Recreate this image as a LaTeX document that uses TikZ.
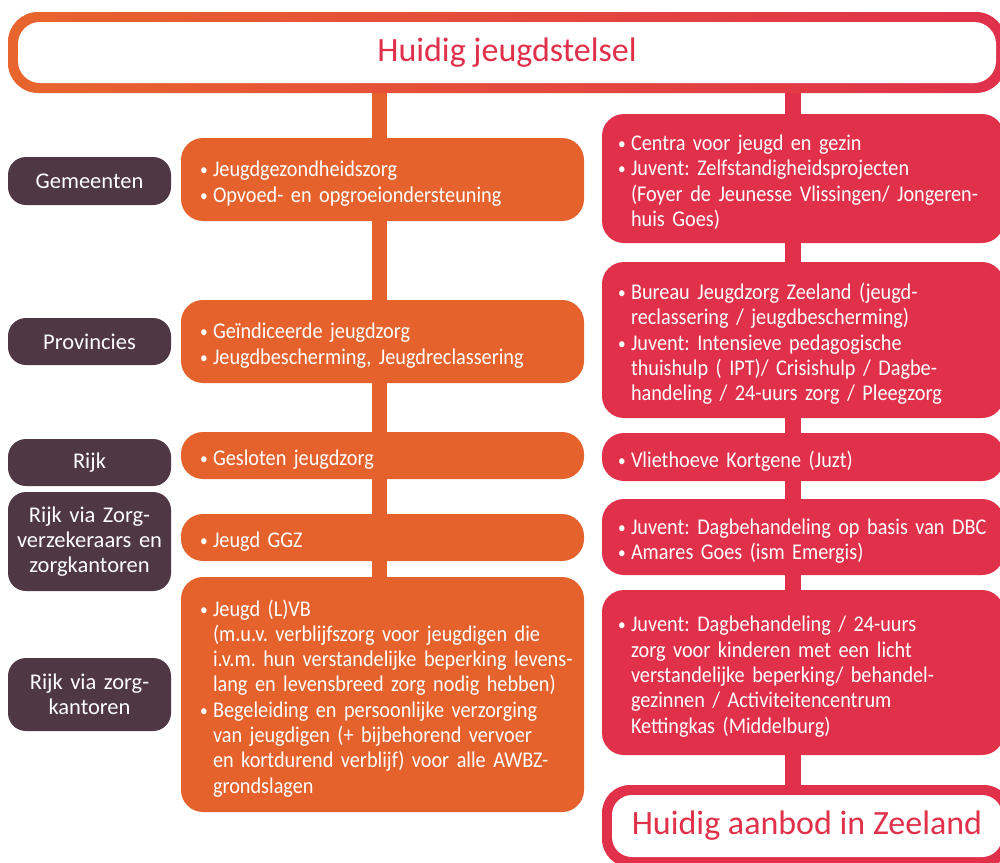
\documentclass[tikz,border=0pt]{standalone}
\usepackage{fontspec}
\setmainfont{Carlito}
\newfontfamily\narrowfont{Carlito}[FakeStretch=0.9]
\frenchspacing
\usetikzlibrary{backgrounds}
\definecolor{oran}{HTML}{E5622D}
\definecolor{rood}{HTML}{E0304A}
\definecolor{paars}{HTML}{4F3744}
\definecolor{gradL}{HTML}{E8652D}
\definecolor{gradR}{HTML}{E0304B}
\newcommand{\bul}{\makebox[13pt][l]{\fontsize{17}{17}\selectfont\raisebox{1pt}{\textbullet}}}
\newcommand{\blist}[1]{\raisebox{-5pt}[\height][\depth]{\begin{tabular}[c]{@{}l@{}l@{}}#1\end{tabular}}}
\tikzset{
  txt/.style={font=\narrowfont\fontsize{22.5}{25.3}\selectfont, text=white},
  obox/.style={txt, fill=oran, rounded corners=22pt, align=left, text width=365pt, inner xsep=19pt, inner ysep=0pt, minimum width=403pt},
  rbox/.style={txt, fill=rood, rounded corners=22pt, align=left, text width=370pt, inner xsep=16pt, inner ysep=0pt, minimum width=402pt},
  pbox/.style={font=\fontsize{22.5}{25.3}\selectfont, text=white, fill=paars, rounded corners=18pt, align=center, text width=150pt, inner xsep=6.5pt, inner ysep=0pt, minimum width=163pt},
  title/.style={font=\fontsize{34}{40}\selectfont, text=rood, fill=white, inner sep=0pt},
  oline/.style={draw=oran, line width=15pt},
  rline/.style={draw=rood, line width=16pt}
}
\begin{document}
\begin{tikzpicture}[x=1pt,y=-1pt]
\useasboundingbox (0,0) rectangle (1000,862);
\clip (0,0) rectangle (1000,862);
% top box
\shade[left color=gradL, right color=gradR, rounded corners=30pt] (8,12) rectangle (1006,93);
\node[title, rounded corners=22pt, minimum width=978pt, minimum height=61pt] (top) at (507,52.5) {Huidig jeugdstelsel};
% bottom box
\fill[rood, rounded corners=28pt] (602,785) rectangle (1012,867);
\node[title, rounded corners=20pt, minimum width=390pt, minimum height=62pt] (bot) at (807,826) {Huidig aanbod in Zeeland};
\coordinate (oL) at (379.5,0);
\coordinate (rL) at (793,0);
% left labels
\node[pbox, minimum height=48pt] (p1) at (89.5,181) {Gemeenten};
\node[pbox, minimum height=47pt] (p2) at (89.5,341.5) {Provincies};
\node[pbox, minimum height=47pt] (p3) at (89.5,462.5) {Rijk};
\node[pbox, minimum height=99pt] (p4) at (89.5,541.5) {Rijk via Zorg-\\verzekeraars en\\zorgkantoren};
\node[pbox, minimum height=73pt] (p5) at (89.5,694.5) {Rijk via zorg-\\kantoren};
% orange boxes
\node[obox, minimum height=83pt] (o1) at (382.5,179.5) {\blist{\bul & Jeugdgezondheidszorg\\ \bul & Opvoed- en opgroeiondersteuning}};
\node[obox, minimum height=83pt] (o2) at (382.5,341.5) {\blist{\bul & Geïndiceerde jeugdzorg\\ \bul & Jeugdbescherming, Jeugdreclassering}};
\node[obox, minimum height=47pt] (o3) at (382.5,455.5) {\blist{\bul & Gesloten jeugdzorg}};
\node[obox, minimum height=47pt] (o4) at (382.5,537.5) {\blist{\bul & Jeugd GGZ}};
\node[obox, minimum height=235pt] (o5) at (382.5,694.5) {\blist{\bul & Jeugd (L)VB\\ & (m.u.v. verblijfszorg voor jeugdigen die\\ & i.v.m. hun verstandelijke beperking levens-\\ & lang en levensbreed zorg nodig hebben)\\ \bul & Begeleiding en persoonlijke verzorging\\ & van jeugdigen (+ bijbehorend vervoer\\ & en kortdurend verblijf) voor alle AWBZ-\\ & grondslagen}};
% red boxes
\node[rbox, minimum height=129pt] (r1) at (803,178.5) {\blist{\bul & Centra voor jeugd en gezin\\ \bul & Juvent: Zelfstandigheidsprojecten\\ & (Foyer de Jeunesse Vlissingen/ Jongeren-\\ & huis Goes)}};
\node[rbox, minimum height=156pt] (r2) at (803,340) {\blist{\bul & Bureau Jeugdzorg Zeeland (jeugd-\\ & reclassering / jeugdbescherming)\\ \bul & Juvent: Intensieve pedagogische\\ & thuishulp ( IPT)/ Crisishulp / Dagbe-\\ & handeling / 24-uurs zorg / Pleegzorg}};
\node[rbox, minimum height=48pt] (r3) at (803,457) {\blist{\bul & Vliethoeve Kortgene (Juzt)}};
\node[rbox, minimum height=76pt] (r4) at (803,537) {\blist{\bul & Juvent: Dagbehandeling op basis van DBC\\ \bul & Amares Goes (ism Emergis)}};
\node[rbox, minimum height=165pt] (r5) at (803,672.5) {\blist{\bul & Juvent: Dagbehandeling / 24-uurs\\ & zorg voor kinderen met een licht\\ & verstandelijke beperking/ behandel-\\ & gezinnen / Activiteitencentrum\\ & Kettingkas (Middelburg)}};
% connectors
\begin{scope}[on background layer]
\draw[oline] (top.south -| oL) -- (o1.north -| oL);
\draw[oline] (o1.south -| oL) -- (o2.north -| oL);
\draw[oline] (o2.south -| oL) -- (o3.north -| oL);
\draw[oline] (o3.south -| oL) -- (o4.north -| oL);
\draw[oline] (o4.south -| oL) -- (o5.north -| oL);
\draw[rline] (top.south -| rL) -- (r1.north -| rL);
\draw[rline] (r1.south -| rL) -- (r2.north -| rL);
\draw[rline] (r2.south -| rL) -- (r3.north -| rL);
\draw[rline] (r3.south -| rL) -- (r4.north -| rL);
\draw[rline] (r4.south -| rL) -- (r5.north -| rL);
\draw[rline] (r5.south -| rL) -- (bot.north -| rL);
\end{scope}
\end{tikzpicture}
\end{document}
